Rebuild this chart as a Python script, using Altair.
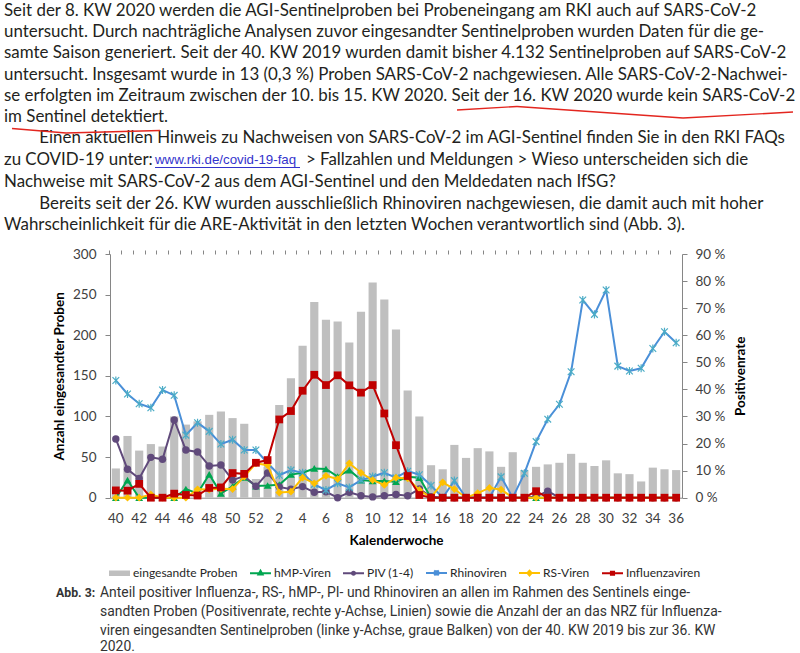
import altair as alt
import pandas as pd

# ---------------- data ----------------
weeks = ["40", "41", "42", "43", "44", "45", "46", "47", "48", "49", "50", "51", "52",
         "1", "2", "3", "4", "5", "6", "7", "8", "9", "10", "11", "12", "13", "14",
         "15", "16", "17", "18", "19", "20", "21", "22", "23", "24", "25", "26", "27",
         "28", "29", "30", "31", "32", "33", "34", "35", "36"]

proben = [36, 76, 58, 66, 63, 100, 90, 94, 102, 106, 98, 91, 23,
          38, 114, 147, 187, 241, 219, 217, 191, 229, 265, 244, 207, 132, 100,
          40, 35, 65, 49, 61, 57, 38, 56, 34, 38, 41, 43, 54,
          43, 39, 46, 30, 29, 20, 37, 35, 34]

hmp = [0, 6.5, 0, 0, 0, 0, 3.2, 1.6, 8.6, 1.6, 4.2, 7.5, 4.3,
       4.5, 4.8, 8.6, 9.2, 10.8, 10.6, 7.8, 10.2, 6.5, 6.2, 6.2, 5.9, 7.7, 7.4,
       0, 0, 0, 0, 0, 0, 0, 0, 0, 0, 0, 0, 0,
       0, 0, 0, 0, 0, 0, 0, 0, 0]

piv = [21.7, 10.5, 7.1, 14.9, 14.2, 28.7, 17.6, 16.9, 11.7, 12.1, 6.5, 8.0, 4.2,
       9.1, 4.0, 3.1, 4.1, 2.0, 2.2, 0, 2.0, 0.7, 0.3, 0.7, 1.2, 0.7, 3.2,
       0.4, 0, 0, 0, 0, 0, 0, 0, 0, 0.4, 2.4, 0, 0,
       0, 0, 0, 0, 0, 0, 0, 0, 0]

rhino = [43.3, 38.3, 34.7, 33.2, 39.8, 37.8, 23.1, 27.7, 24.5, 19.8, 21.4, 17.6, 17.6,
         12.8, 8.3, 10.2, 9.2, 4.9, 2.8, 5.3, 3.8, 6.5, 7.8, 9.2, 7.4, 9.8, 8.5,
         4.5, 0, 6.3, 0, 0, 0, 7.7, 0, 9.0, 20.7, 29.0, 34.5, 46.5,
         73.0, 67.7, 76.7, 48.6, 46.8, 47.8, 55.1, 61.3, 57.2]

rs = [0, 0, 0, 1.2, 0, 0, 0, 3.1, 3.0, 3.3, 3.2, 7.8, 12.7,
      12.0, 1.9, 2.2, 7.4, 5.3, 8.1, 6.9, 12.7, 9.2, 6.5, 4.7, 7.4, 7.1, 2.8,
      0, 5.7, 3.2, 0, 1.7, 3.6, 3.0, 0, 0, 0, 0, 0, 0,
      0, 0, 0, 0, 0, 0, 0, 0, 0]

influenza = [2.7, 2.6, 5.1, 0, 0, 1.5, 1.0, 0.8, 3.6, 3.8, 9.1, 8.8, 12.9,
             13.9, 28.9, 32.0, 39.5, 45.4, 41.6, 45.2, 41.5, 38.8, 41.6, 31.1, 19.4, 8.0, 1.0,
             0, 0, 0, 0, 0, 0, 0, 0, 0, 2.4, 0, 0, 0,
             0, 0, 0, 0, 0, 0, 0, 0, 0]

bar_name = "eingesandte Proben"
series_names = ["hMP-Viren", "PIV (1-4)", "Rhinoviren", "RS-Viren", "Influenzaviren"]
left_ticks = [0, 50, 100, 150, 200, 250, 300]
right_ticks = [0, 10, 20, 30, 40, 50, 60, 70, 80, 90]

body_lines = [
    "Seit der 8. KW 2020 werden die AGI-Sentinelproben bei Probeneingang am RKI auch auf SARS-CoV-2",
    "untersucht. Durch nachträgliche Analysen zuvor eingesandter Sentinelproben wurden Daten für die ge-",
    "samte Saison generiert. Seit der 40. KW 2019 wurden damit bisher 4.132 Sentinelproben auf SARS-CoV-2",
    "untersucht. Insgesamt wurde in 13 (0,3 %) Proben SARS-CoV-2 nachgewiesen. Alle SARS-CoV-2-Nachwei-",
    "se erfolgten im Zeitraum zwischen der 10. bis 15. KW 2020. Seit der 16. KW 2020 wurde kein SARS-CoV-2",
    "im Sentinel detektiert.",
    "Einen aktuellen Hinweis zu Nachweisen von SARS-CoV-2 im AGI-Sentinel finden Sie in den RKI FAQs",
]
link_pre = "zu COVID-19 unter:"
link_text = "www.rki.de/covid-19-faq"
link_post = "> Fallzahlen und Meldungen > Wieso unterscheiden sich die"
body_lines2 = [
    "Nachweise mit SARS-CoV-2 aus dem AGI-Sentinel und den Meldedaten nach IfSG?",
    "Bereits seit der 26. KW wurden ausschließlich Rhinoviren nachgewiesen, die damit auch mit hoher",
    "Wahrscheinlichkeit für die ARE-Aktivität in den letzten Wochen verantwortlich sind (Abb. 3).",
]
caption_label = "Abb. 3:"
caption_lines = [
    "Anteil positiver Influenza-, RS-, hMP-, PI- und Rhinoviren an allen im Rahmen des Sentinels einge-",
    "sandten Proben (Positivenrate, rechte y-Achse, Linien) sowie die Anzahl der an das NRZ für Influenza-",
    "viren eingesandten Sentinelproben (linke y-Achse, graue Balken) von der 40. KW 2019 bis zur 36. KW",
    "2020.",
]

# ---------------- layout constants ----------------
OX, OY = 110, 254          # plot-area origin in page pixels
PW, PH = 572, 243.7
CHART_FONT = "Lato"
AXIS_GREY = "#868686"
LABEL_COL = "#404040"

dummy = pd.DataFrame({"k": [0]})


def xenc(axis=None):
    return alt.X("week:N",
                 scale=alt.Scale(type="band", domain=weeks, paddingInner=0.3, paddingOuter=0.15),
                 axis=axis)


def yright(axis=None):
    return alt.Y("pct:Q", scale=alt.Scale(domain=[0, 90], nice=False), axis=axis)


layers = []

# bars
df_bars = pd.DataFrame({"week": weeks, "n": proben})
bars = alt.Chart(df_bars).mark_bar(color="#bfbfbf").encode(
    x=xenc(alt.Axis(title="Kalenderwoche", labelAngle=0, labelOverlap=False,
                    labelExpr="toNumber(datum.value) % 2 == 0 ? datum.value : ''",
                    ticks=False, domainColor=AXIS_GREY, labelFont=CHART_FONT, labelFontSize=13.5,
                    labelColor=LABEL_COL, labelPadding=14, titleFont=CHART_FONT, titleFontSize=13.5,
                    titleFontWeight="bold", titleColor="#000000", titlePadding=8)),
    y=alt.Y("n:Q", scale=alt.Scale(domain=[0, 300], nice=False),
            axis=alt.Axis(orient="left", values=left_ticks, title="Anzahl eingesandter Proben",
                          grid=False, tickSize=5, domainColor=AXIS_GREY, tickColor=AXIS_GREY,
                          labelFont=CHART_FONT, labelFontSize=13.5, labelColor=LABEL_COL,
                          labelPadding=9, titleFont=CHART_FONT, titleFontSize=13.5,
                          titleFontWeight="bold", titleColor="#000000", titlePadding=6)),
)
layers.append(bars)

asterisk = "M-1,-1L1,1M-1,1L1,-1M0,-1.2V1.2"
series = [
    (series_names[0], hmp, "#00a650", "triangle-up", 60),
    (series_names[1], piv, "#604a7b", "circle", 55),
    (series_names[2], rhino, "#4a8fd8", asterisk, 45),
    (series_names[3], rs, "#ffc000", "diamond", 60),
    (series_names[4], influenza, "#c00000", "square", 60),
]

tick_axis = alt.Axis(labels=False, ticks=True, tickSize=4, tickColor=AXIS_GREY, domain=False,
                     title=None, bandPosition=-0.2143, grid=False)
right_axis = alt.Axis(orient="right", values=right_ticks, labelExpr="datum.value + ' %'",
                      title="Positivenrate", titleAngle=270, titleX=58, titleY=PH / 2,
                      titleAlign="center", titleBaseline="middle", grid=False, tickSize=5,
                      domainColor=AXIS_GREY, tickColor=AXIS_GREY, labelFont=CHART_FONT,
                      labelFontSize=13.5, labelColor=LABEL_COL, labelPadding=8,
                      titleFont=CHART_FONT, titleFontSize=13.5, titleFontWeight="bold",
                      titleColor="#000000")

for k, (name, vals, col, shape, size) in enumerate(series):
    df = pd.DataFrame({"week": weeks, "pct": vals})
    line = alt.Chart(df).mark_line(color=col, strokeWidth=2).encode(
        x=xenc(tick_axis if k == 0 else None),
        y=yright(right_axis if k == 0 else None),
    )
    if shape == asterisk:
        pts = alt.Chart(df).mark_point(shape=shape, filled=False, color="#4bacc6",
                                       strokeWidth=1.2, size=size, opacity=1)
    else:
        pts = alt.Chart(df).mark_point(shape=shape, filled=True, color=col, size=size, opacity=1)
    pts = pts.encode(x=xenc(None), y=yright(None))
    layers += [line, pts]

# legend (library legend, driven by an empty layer with explicit scale domains)
legend_names = [bar_name] + series_names
legend_colors = ["#bfbfbf", "#00a650", "#604a7b", "#4a8fd8", "#ffc000", "#c00000"]
legend_shapes = [
    "M-1,-0.16H1M-1,0H1M-1,0.16H1",
    "M-1,0H1M0,-0.24L0.2,0.13L-0.2,0.13Z",
    "M-1,0H1M-0.15,0A0.15,0.15 0 1,0 0.15,0A0.15,0.15 0 1,0 -0.15,0",
    "M-1,0H1M-0.22,-0.22L0.22,0.22M-0.22,0.22L0.22,-0.22M0,-0.26V0.26",
    "M-1,0H1M0,-0.22L0.2,0L0,0.22L-0.2,0Z",
    "M-1,0H1M-0.15,-0.15H0.15V0.15H-0.15Z",
]
leg = alt.Legend(orient="none", legendX=-2, legendY=307, direction="horizontal", columns=6,
                 title=None, symbolSize=441, symbolStrokeWidth=2, labelFont=CHART_FONT,
                 labelFontSize=12, labelColor="#262626", labelOffset=2, columnPadding=8,
                 padding=0)
legend_layer = alt.Chart(pd.DataFrame({"name": legend_names})).transform_filter("false").mark_point(
    filled=False, strokeWidth=2, opacity=1).encode(
    color=alt.Color("name:N", scale=alt.Scale(domain=legend_names, range=legend_colors), legend=leg),
    shape=alt.Shape("name:N", scale=alt.Scale(domain=legend_names, range=legend_shapes), legend=leg),
)
layers.append(legend_layer)


# ---------------- page text ----------------
def text_layer(txt, x, y, size=16.9, font="Lato", color="#231f20", weight="normal"):
    return alt.Chart(dummy).mark_text(text=txt, align="left", baseline="middle", font=font,
                                      fontSize=size, color=color, fontWeight=weight).encode(
        x=alt.value(x - OX), y=alt.value(y - OY))


def seg(x1, y1, x2, y2, color, w):
    return alt.Chart(dummy).mark_rule(color=color, strokeWidth=w).encode(
        x=alt.value(x1 - OX), x2=alt.value(x2 - OX), y=alt.value(y1 - OY), y2=alt.value(y2 - OY))


body_y = [11, 32, 53.3, 74.6, 95.8, 117, 138]
body_x = [4, 4, 4, 4, 4, 4, 39.3]
for txt, x, y in zip(body_lines, body_x, body_y):
    layers.append(text_layer(txt, x, y))
layers.append(text_layer(link_pre, 4, 160))
layers.append(text_layer(link_text, 155, 160, size=13.3, font="Liberation Sans", color="#3333cc"))
layers.append(seg(155, 167.5, 300, 167.5, "#3333cc", 1))
layers.append(text_layer(link_post, 306, 160))
for txt, x, y in zip(body_lines2, [4, 39.3, 4], [182, 203.5, 224.5]):
    layers.append(text_layer(txt, x, y))

# hand-drawn red underlines
RED = "#e3261f"
layers += [
    seg(457, 110, 517, 106.5, RED, 1.4),
    seg(517, 106.5, 683, 118, RED, 1.4),
    seg(683, 118, 793, 112, RED, 1.4),
    seg(12, 128.5, 66, 133, RED, 1.4),
    seg(66, 133, 160, 130.5, RED, 1.4),
]

# caption
cap_font = "Roboto"
layers.append(text_layer(caption_label, 56, 593, size=12.3, font=cap_font, color="#333333", weight="bold"))
for txt, y in zip(caption_lines, [593, 612, 631, 647]):
    layers.append(text_layer(txt, 100, y, size=13.9, font=cap_font, color="#333333"))

chart = alt.layer(*layers).resolve_scale(y="independent").resolve_axis(
    x="independent", y="independent").properties(
    width=PW, height=PH,
    padding={"left": OX, "top": OY, "right": 800 - OX - PW, "bottom": 653 - OY - PH},
    autosize=alt.AutoSizeParams(type="none"),
    background="white",
).configure_view(stroke=None)

chart.save("out.html", embed_options={"renderer": "svg", "actions": False})
